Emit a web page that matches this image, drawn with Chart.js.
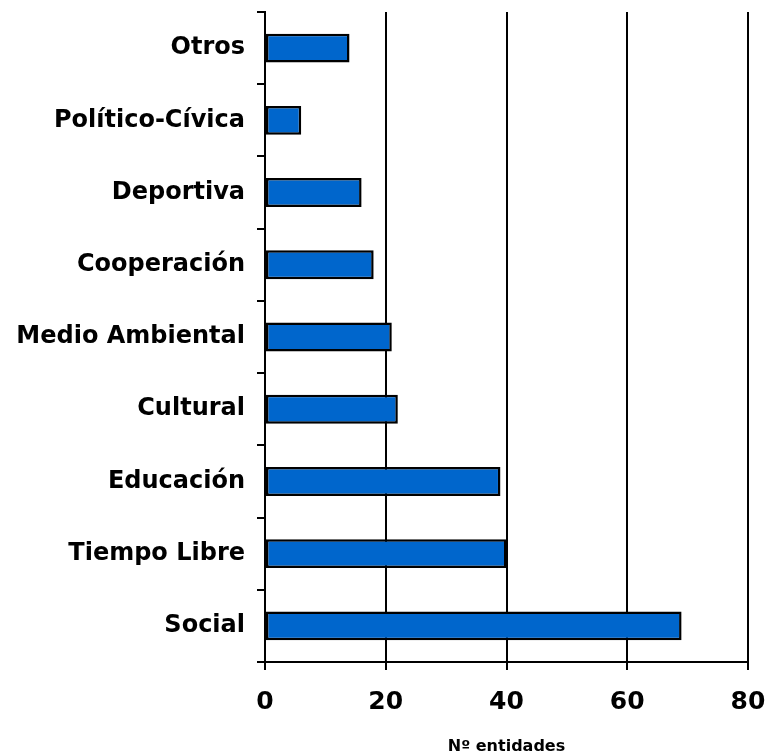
<!DOCTYPE html>
<html>
<head>
<meta charset="utf-8">
<script src="https://cdn.jsdelivr.net/npm/chart.js@4/dist/chart.umd.min.js"></script>
<style>
    html, body { margin: 0; padding: 0; background: #fff; }
    #wrap { width: 765px; height: 753px; }
</style>
</head>
<body>
<div id="wrap"><canvas id="chartElement"></canvas></div>
<script>
/* Data, top to bottom */
const categories = ["Otros", "Político-Cívica", "Deportiva", "Cooperación", "Medio Ambiental", "Cultural", "Educación", "Tiempo Libre", "Social"];
const entidades = [14, 6, 16, 18, 21, 22, 39, 40, 69];
const xTicks = [0, 20, 40, 60, 80];
const xTitle = "Nº entidades";

const FONT = "'DejaVu Sans', sans-serif";

const config = {
    type: 'bar',
    data: {
        labels: categories,
        datasets: [
            {
                label: xTitle,
                data: entidades,
                backgroundColor: "rgb(0, 102, 204)",
                borderColor: "#000",
                borderWidth: 2.5,
                borderSkipped: false,
                barPercentage: 0.4,
                categoryPercentage: 1
            }
        ]
    },
    options: {
        indexAxis: 'y',
        responsive: true,
        maintainAspectRatio: false,
        animation: false,
        layout: {
            padding: { top: 12, right: 17, bottom: 0, left: 0 }
        },
        plugins: {
            legend: { display: false },
            tooltip: { enabled: false }
        },
        scales: {
            x: {
                min: 0,
                max: 80,
                afterBuildTicks: function (scale) {
                    scale.ticks = xTicks.map(v => ({ value: v }));
                },
                afterFit: function (scale) {
                    // fixed axis box, no extra room for the end labels
                    scale.height = 91;
                    scale.paddingLeft = 0;
                    scale.paddingRight = 0;
                },
                border: { display: true, color: "#000", width: 2 },
                grid: {
                    color: "#000",
                    lineWidth: 2,
                    tickLength: 8,
                    drawOnChartArea: true
                },
                ticks: {
                    color: "#000",
                    padding: 17,
                    font: { family: FONT, size: 25, weight: 'bold' }
                },
                title: {
                    display: true,
                    text: xTitle,
                    color: "#000",
                    padding: { top: 0, bottom: -3 },
                    font: { family: FONT, size: 16, weight: 'bold' }
                }
            },
            y: {
                afterFit: function (scale) {
                    scale.width = 265;
                    scale.paddingTop = 0;
                    scale.paddingBottom = 0;
                },
                border: { display: true, color: "#000", width: 2 },
                grid: {
                    color: "#000",
                    lineWidth: 2,
                    tickLength: 8,
                    offset: true,
                    drawOnChartArea: false
                },
                ticks: {
                    color: "#000",
                    padding: 12,
                    font: { family: FONT, size: 24, weight: 'bold' }
                }
            }
        }
    }
};

const chart = new Chart(document.getElementById('chartElement'), config);
</script>
</body>
</html>
